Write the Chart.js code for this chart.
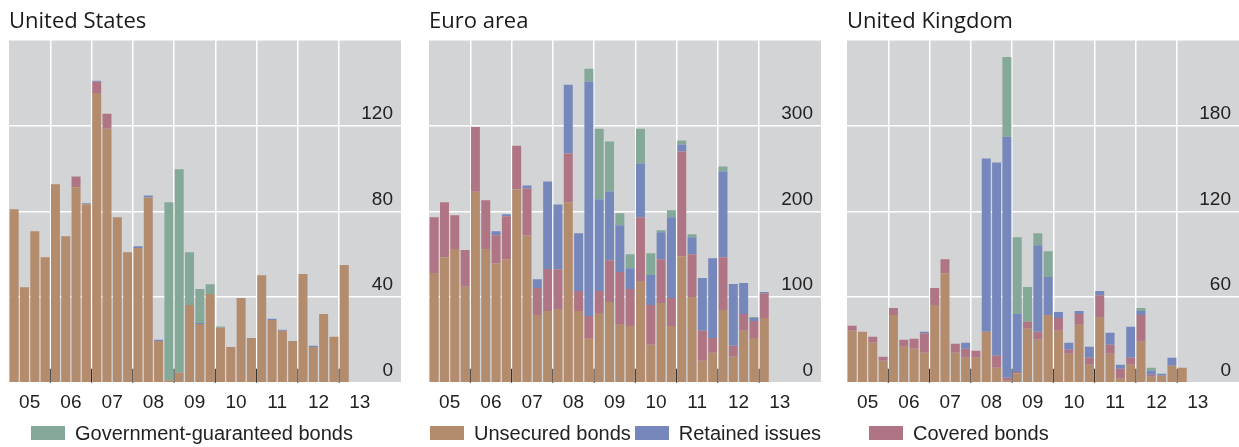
<!DOCTYPE html>
<html>
<head>
<meta charset="utf-8">
<script src="https://cdn.jsdelivr.net/npm/chart.js@4.4.1/dist/chart.umd.min.js"></script>
<style>
  html, body { margin: 0; padding: 0; background: #fff; }
  #page { position: relative; width: 1239px; height: 447px; overflow: hidden; }
  .panel { position: absolute; top: 0; }
  .legend { position: absolute; top: 421px; height: 24px; display: flex; align-items: center;
            font: 20px "Liberation Sans", Arial, sans-serif; color: #222; white-space: nowrap; }
  .legend .item { display: flex; align-items: center; margin-right: 4px; }
  .legend .box { display: inline-block; width: 34px; height: 14px; margin-right: 10px; }
</style>
</head>
<body>
<div id="page">
  <div class="panel" style="left:9px"><canvas id="us" width="392" height="423"></canvas></div>
  <div class="panel" style="left:429px"><canvas id="ea" width="392" height="423"></canvas></div>
  <div class="panel" style="left:847px"><canvas id="uk" width="392" height="423"></canvas></div>
  <div class="legend" id="leg-us" style="left:31px"></div>
  <div class="legend" id="leg-ea" style="left:430px"></div>
  <div class="legend" id="leg-uk" style="left:869px"></div>
</div>
<script>
// quarterly slots 2005 Q1 .. 2014 Q2, data runs to 2013 Q1
const years = [2005, 2006, 2007, 2008, 2009, 2010, 2011, 2012, 2013, 2014];
const yearLabels = ['05', '06', '07', '08', '09', '10', '11', '12', '13'];
const quarters = [];
years.forEach(function(y) {
    ['Q1', 'Q2', 'Q3', 'Q4'].forEach(function(q) { quarters.push(y + q); });
});
quarters.length = 38;

const seriesNames = ['Unsecured bonds', 'Covered bonds', 'Retained issues', 'Government-guaranteed bonds'];
const seriesColors = ['#b38b6d', '#b07584', '#7688bb', '#85a999'];

// United States
const usUnsecured = [81, 44.6, 70.7, 58.6, 92.6, 68.4, 91.2, 83.3, 135.3, 118.6, 77.2, 60.9, 62.9, 86.5, 19.5, 1.2, 4.6,
    36.3, 27.4, 41.4, 25.6, 16.7, 39.5, 20.9, 50.2, 29.3, 24.2, 19.5, 50.7, 16.7, 32.1, 21.4, 54.9];
const usCovered = [0, 0, 0, 0, 0, 0, 5.1, 0, 5.2, 7, 0, 0, 0, 0, 0, 0, 0,
    0, 0, 0, 0, 0, 0, 0, 0, 0, 0, 0, 0, 0, 0, 0, 0];
const usRetained = [0, 0, 0, 0, 0, 0, 0, 0.5, 0.5, 0, 0, 0, 0.8, 0.9, 0.5, 0, 0,
    0, 0.5, 0, 0, 0, 0, 0, 0, 0.5, 0.5, 0, 0, 0.5, 0, 0, 0];
const usGovt = [0, 0, 0, 0, 0, 0, 0, 0, 0, 0, 0, 0, 0, 0, 0, 83, 95,
    24.6, 15.8, 4.6, 0.6, 0, 0, 0, 0, 0, 0, 0, 0, 0, 0, 0, 0];

// Euro area
const eaUnsecured = [128, 146.5, 156, 112, 223, 156, 139.5, 144, 225.6, 172, 79, 83.7, 86, 210.5, 83.7, 51.2, 81.4,
    94.2, 68.6, 66.3, 118.6, 44.2, 93, 66.3, 147.7, 100, 25.6, 34.9, 84.9, 30.2, 60.5, 52.3, 75.6];
const eaCovered = [65, 64, 39.5, 43, 75.5, 57, 32.6, 50.4, 51, 54.6, 31.4, 48.9, 46.5, 57, 23.3, 26.7, 25.6,
    48.8, 60.5, 43, 74.4, 46.5, 51.2, 32.5, 122.1, 50, 34.9, 17.4, 61.6, 12.8, 19.7, 19.8, 28.7];
const eaRetained = [0, 0, 0, 0, 0, 0, 4.6, 2.3, 0, 3.5, 10.4, 102.3, 75.5, 80.2, 67.4, 273.3, 107,
    80.3, 54.6, 24.4, 62.8, 34.9, 31.4, 94.2, 8.1, 19.8, 61.6, 93, 100, 72.1, 36.1, 3.5, 1.5];
const eaGovt = [0, 0, 0, 0, 0, 0, 0, 0, 0, 0, 0, 0, 0, 0, 0, 15.1, 82.5,
    58.1, 14, 16.3, 40.7, 25.6, 2.3, 8.2, 4.7, 3.5, 0, 0, 5.8, 0, 0, 1.1, 0];

// United Kingdom
const ukUnsecured = [36.3, 35.6, 27.9, 15.3, 47.4, 25.1, 23.7, 20.9, 54.4, 76.7, 20.9, 17.4, 17.4, 35.6, 10.5, 1.4, 6.5,
    37.7, 30, 47.4, 36.3, 20.2, 40.5, 12.6, 46, 20.2, 2.8, 12.6, 28.6, 4.2, 4.9, 11.9, 10.5];
const ukCovered = [3.5, 0, 4.2, 2.8, 4.9, 4.9, 7, 13.8, 11.9, 9.8, 6.3, 6.3, 4.9, 0, 8.3, 2.1, 1,
    4.9, 5.6, 0, 9, 2.8, 7.6, 4.8, 15.2, 6.3, 7, 4.8, 18.8, 1.4, 0, 0, 0];
const ukRetained = [0, 0, 0, 0, 0, 0, 0, 0.9, 0, 0, 0, 4.2, 0, 121.4, 135.4, 168.8, 40.6,
    0, 60.7, 26.6, 4.2, 4.9, 2.1, 7.7, 3, 8.4, 2.8, 21.7, 2.8, 2.8, 1.4, 5.5, 0];
const ukGovt = [0, 0, 0, 0, 0, 0, 0, 0, 0, 0, 0, 0, 0, 0, 0, 55.8, 53.8,
    24.4, 8.4, 18.1, 0, 0, 0, 0, 0, 0, 0, 0, 2.1, 2.1, 0, 0, 0];

const lastYearLine = 32; // 2013 boundary

// grey plot area
const plotBackground = {
    id: 'plotBackground',
    beforeDraw: function(chart) {
        const a = chart.chartArea;
        chart.ctx.save();
        chart.ctx.fillStyle = '#d3d4d6';
        chart.ctx.fillRect(a.left, a.top, a.right - a.left, a.bottom - a.top);
        chart.ctx.restore();
    }
};

// short dark marks at each year boundary along the bottom
const yearTicks = {
    id: 'yearTicks',
    beforeDatasetsDraw: function(chart) {
        const ctx = chart.ctx, a = chart.chartArea, x = chart.scales.x;
        ctx.save();
        ctx.strokeStyle = '#333';
        ctx.lineWidth = 1.2;
        for (let i = 4; i <= lastYearLine; i += 4) {
            const px = (x.getPixelForValue(i - 1) + x.getPixelForValue(i)) / 2;
            ctx.beginPath();
            ctx.moveTo(px, a.bottom - 14);
            ctx.lineTo(px, a.bottom);
            ctx.stroke();
        }
        ctx.restore();
    }
};

function buildPanel(id, title, yMax, step, series) {
    const slot = 392 / quarters.length;
    return new Chart(document.getElementById(id), {
        type: 'bar',
        data: {
            labels: quarters,
            datasets: series.map(function(values, k) {
                return {
                    label: seriesNames[k],
                    data: values,
                    backgroundColor: seriesColors[k],
                    borderWidth: 0,
                    barPercentage: 0.87,
                    categoryPercentage: 1
                };
            })
        },
        options: {
            responsive: false,
            animation: false,
            layout: { padding: 0 },
            plugins: {
                legend: { display: false },
                tooltip: { enabled: false },
                title: {
                    display: true,
                    text: title,
                    align: 'start',
                    color: '#1a1a1a',
                    font: { family: '"Open Sans", sans-serif', size: 22, weight: 'normal' },
                    padding: { top: 9, bottom: 4.6 }
                }
            },
            scales: {
                x: {
                    stacked: true,
                    border: { display: false },
                    grid: {
                        offset: true,
                        drawTicks: false,
                        lineWidth: 1.5,
                        color: function(c) {
                            return (c.index > 0 && c.index <= lastYearLine && c.index % 4 === 0) ? '#ffffff' : 'rgba(0,0,0,0)';
                        }
                    },
                    ticks: {
                        autoSkip: false,
                        maxRotation: 0,
                        padding: 4,
                        labelOffset: -slot / 2,
                        color: '#222',
                        font: { family: '"Liberation Sans", Arial, sans-serif', size: 19, lineHeight: 1.7 },
                        callback: function(v, i) {
                            const y = Math.floor(i / 4);
                            return (i % 4 === 2 && y < yearLabels.length) ? yearLabels[y] : '';
                        }
                    }
                },
                y: {
                    stacked: true,
                    position: 'right',
                    min: 0,
                    max: yMax,
                    border: { display: false },
                    grid: { drawTicks: false, color: '#ffffff', lineWidth: 1.5 },
                    ticks: {
                        stepSize: step,
                        mirror: true,
                        padding: -8,
                        labelOffset: -12,
                        color: '#222',
                        font: { family: '"Liberation Sans", Arial, sans-serif', size: 19 },
                        callback: function(v) { return v === yMax ? '' : v; }
                    }
                }
            }
        },
        plugins: [plotBackground, yearTicks]
    });
}

buildPanel('us', 'United States', 160, 40, [usUnsecured, usCovered, usRetained, usGovt]);
buildPanel('ea', 'Euro area', 400, 100, [eaUnsecured, eaCovered, eaRetained, eaGovt]);
buildPanel('uk', 'United Kingdom', 240, 60, [ukUnsecured, ukCovered, ukRetained, ukGovt]);

// legend entries split under the three panels
function buildLegend(id, which) {
    const el = document.getElementById(id);
    which.forEach(function(k) {
        const item = document.createElement('span');
        item.className = 'item';
        const box = document.createElement('span');
        box.className = 'box';
        box.style.background = seriesColors[k];
        item.appendChild(box);
        item.appendChild(document.createTextNode(seriesNames[k]));
        el.appendChild(item);
    });
}
buildLegend('leg-us', [3]);
buildLegend('leg-ea', [0, 2]);
buildLegend('leg-uk', [1]);
</script>
</body>
</html>
